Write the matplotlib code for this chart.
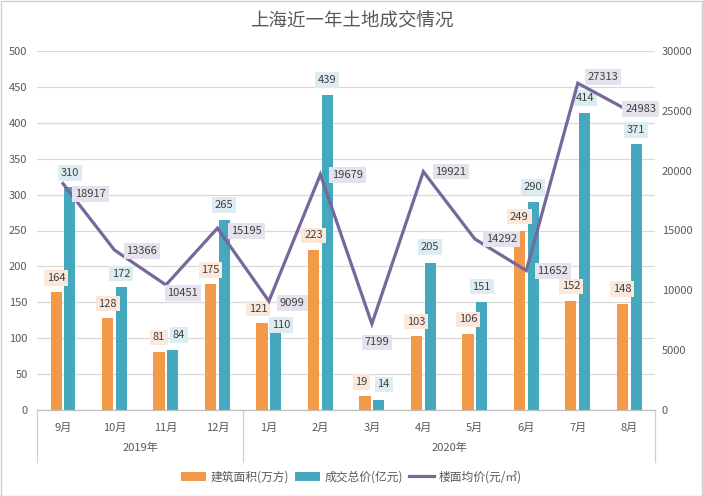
import matplotlib
matplotlib.use("Agg")
import matplotlib.pyplot as plt
from matplotlib.lines import Line2D
from matplotlib.patches import Patch, Rectangle
import numpy as np

plt.rcParams['font.family'] = ['Noto Sans CJK SC', 'DejaVu Sans']

# ---- data ----
months = ['9月', '10月', '11月', '12月', '1月', '2月', '3月', '4月', '5月', '6月', '7月', '8月']
years = ['2019年', '2020年']
year_counts = [4, 8]
area = [164, 128, 81, 175, 121, 223, 19, 103, 106, 249, 152, 148]          # 建筑面积(万方)
total = [310, 172, 84, 265, 110, 439, 14, 205, 151, 290, 414, 371]        # 成交总价(亿元)
price = [18917, 13366, 10451, 15195, 9099, 19679, 7199, 19921, 14292, 11652, 27313, 24983]  # 楼面均价
left_ticks = list(range(0, 501, 50))
right_ticks = list(range(0, 30001, 5000))

# ---- style ----
C_OR = '#F39A48'
C_TE = '#44A8BE'
C_PU = '#77689B'
BG_OR = '#FBE8DA'
BG_TE = '#DCEDF2'
BG_PU = '#E5E2EC'
TXT = '#404040'
TICK = '#595959'
GRID = '#D9D9D9'

# label offsets (pixels): dx, dy (dy up positive)
area_dx = [0, 0, 0, 0, -3.7, 0, -3.5, 0, 0, 0, 0, 0]
area_dy = [14.5] * 12
total_dx = [0, 0, 6, 0, 5, 0, 5, 0, 0, 0, 0, 0]
total_dy = [14.5, 13, 14.5, 15, 6, 15, 15.5, 16, 15, 15, 15, 13.6]
price_dx = [27.5, 27.5, 17, 29, 23.5, 27, 5, 27.5, 27, 26.5, 25, 11.5]
price_dy = [-10.4, -0.7, -8, -3, -2, -0.5, -18.5, 0, 0, -0.5, 6, 2]

W, H = 703, 496
fig = plt.figure(figsize=(W / 100, H / 100), dpi=100)
fig.patch.set_facecolor('white')
fig.add_artist(Rectangle((0.001, 0.001), 0.997, 0.997, transform=fig.transFigure,
                         fill=False, edgecolor='#D0D0D0', linewidth=1))

left_px, right_px, top_px, bot_px = 37.25, 655, 51, 410
ax = fig.add_axes([left_px / W, 1 - bot_px / H, (right_px - left_px) / W, (bot_px - top_px) / H])
ax2 = ax.twinx()

x = np.arange(len(months))
bw = 0.217
off = 0.134

ax.set_ylim(0, 500)
ax.set_yticks(left_ticks)
ax.set_xlim(-0.5, len(months) - 0.5)
ax.grid(axis='y', color=GRID, linewidth=0.9)
ax.set_axisbelow(True)

ax.bar(x - off, area, width=bw, color=C_OR, zorder=2)
ax.bar(x + off, total, width=bw, color=C_TE, zorder=2)

ax2.set_ylim(0, 30000)
ax2.set_yticks(right_ticks)
ax2.plot(x, price, color=C_PU, linewidth=2.3, zorder=3, solid_joinstyle='miter')

for a in (ax, ax2):
    for s in ('top', 'left', 'right'):
        a.spines[s].set_visible(False)
    a.spines['bottom'].set_color('#BFBFBF')
    a.tick_params(axis='y', length=0, labelsize=8, labelcolor=TICK)
ax.tick_params(axis='y', pad=7)
ax2.tick_params(axis='y', pad=5)
ax.tick_params(axis='x', length=0, labelsize=8, labelcolor=TICK, pad=9)
ax.set_xticks(x)
ax.set_xticklabels(months)

# bar labels
for i in range(len(months)):
    ax.annotate(str(area[i]), (x[i] - off, area[i]), xytext=(area_dx[i], area_dy[i]),
                textcoords='offset pixels', ha='center', va='center', fontsize=8, color=TXT,
                bbox=dict(boxstyle='square,pad=0.25', fc=BG_OR, ec='none'), zorder=5)
    ax.annotate(str(total[i]), (x[i] + off, total[i]), xytext=(total_dx[i], total_dy[i]),
                textcoords='offset pixels', ha='center', va='center', fontsize=8, color=TXT,
                bbox=dict(boxstyle='square,pad=0.25', fc=BG_TE, ec='none'), zorder=5)
    ax2.annotate(str(price[i]), (x[i], price[i]), xytext=(price_dx[i], price_dy[i]),
                 textcoords='offset pixels', ha='center', va='center', fontsize=8, color=TXT,
                 bbox=dict(boxstyle='square,pad=0.25', fc=BG_PU, ec='none'), zorder=6)

# multi-level category axis
trans = ax.get_xaxis_transform()
axh_px = bot_px - top_px
seps = [-0.5]
acc = -0.5
for c in year_counts:
    acc += c
    seps.append(acc)
for s in seps:
    ax.add_line(Line2D([s, s], [0, -52 / axh_px], transform=trans, color='#D0D0D0',
                       linewidth=0.9, clip_on=False))
for k, yr in enumerate(years):
    mid = (seps[k] + seps[k + 1]) / 2
    ax.text(mid, -38 / axh_px, yr, transform=trans, ha='center', va='center',
            fontsize=8, color=TICK)

# title
fig.text(0.5, 1 - 22 / H, '上海近一年土地成交情况', ha='center', va='center',
         fontsize=13.3, color='#595959')

# legend
handles = [Patch(facecolor=C_OR, edgecolor='none'),
           Patch(facecolor=C_TE, edgecolor='none'),
           Line2D([0], [0], color=C_PU, linewidth=2.3)]
labels = ['建筑面积(万方)', '成交总价(亿元)', '楼面均价(元/㎡)']
fig.legend(handles, labels, loc='center', bbox_to_anchor=(351.5 / W, 1 - 477 / H), ncol=3,
           frameon=False, fontsize=8.5, handlelength=2.1, handleheight=0.7,
           handletextpad=0.4, columnspacing=0.5, labelcolor=TICK)

fig.savefig('out.png', dpi=100, facecolor='white')
